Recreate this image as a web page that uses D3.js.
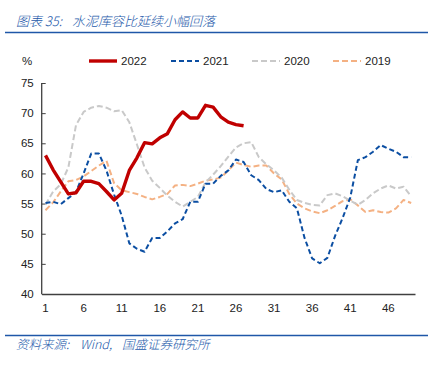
<!DOCTYPE html>
<html>
<head>
<meta charset="utf-8">
<script src="https://cdn.jsdelivr.net/npm/d3@7"></script>
<style>
  body { margin: 0; background: #fff; }
  text { font-family: "Liberation Sans", Arial, sans-serif; }
  .cn { font-family: "Noto Sans CJK SC", sans-serif; font-style: italic; font-weight: 300; fill: #2459aa; }
</style>
</head>
<body>
<div id="chart"></div>
<script>
// weeks 1..49
var weeks = d3.range(1, 50);
var tickWeeks = [1, 6, 11, 16, 21, 26, 31, 36, 41, 46];
var yTicks = [40, 45, 50, 55, 60, 65, 70, 75];

var v2022 = [63.0, 60.6, 58.6, 56.6, 56.8, 58.7, 58.7, 58.3, 57.0, 55.6, 56.7, 60.5, 62.6, 65.1, 64.9, 65.9, 66.6, 68.9, 70.2, 69.2,
  69.2, 71.3, 71.0, 69.4, 68.5, 68.1, 67.9];
var v2021 = [55.1, 55.3, 54.9, 55.9, 56.9, 60.0, 63.3, 63.3, 60.5, 56.5, 53.0, 48.4, 47.5, 47.0, 49.3, 49.3, 50.4, 51.7, 52.4, 55.3,
  55.3, 58.3, 58.3, 59.6, 60.5, 62.3, 61.9, 59.7, 58.9, 57.4, 56.9, 57.2, 55.3, 54.2, 49.3, 45.9, 45.1, 46.0, 49.6, 52.6,
  56.0, 62.2, 62.7, 63.6, 64.7, 64.1, 63.6, 62.7, 62.7];
var v2020 = [54.8, 57.0, 58.2, 61.0, 68.0, 70.2, 70.9, 71.2, 70.9, 70.3, 70.5, 68.5, 64.8, 61.0, 58.8, 57.6, 56.3, 55.3, 54.5, 55.3,
  56.1, 58.5, 59.8, 61.2, 62.8, 64.3, 65.0, 65.2, 62.7, 61.5, 60.5, 59.3, 57.3, 55.6, 55.1, 54.8, 54.7, 56.4, 56.7, 56.2,
  55.5, 54.8, 55.6, 56.7, 57.5, 58.0, 57.5, 57.8, 56.2];
var v2019 = [53.9, 55.2, 57.0, 58.7, 58.9, 59.5, 60.4, 61.3, 62.1, 58.4, 57.2, 56.9, 56.6, 56.1, 55.7, 56.1, 56.6, 58.0, 58.1, 57.9,
  58.3, 58.8, 59.0, 59.3, 60.5, 61.8, 61.4, 61.1, 61.3, 61.3, 60.0, 59.0, 56.6, 55.0, 54.2, 53.7, 53.4, 53.9, 54.6, 55.4,
  55.7, 54.7, 53.6, 53.9, 53.6, 53.5, 54.2, 55.6, 55.1];

var seriesNames = ['2022', '2021', '2020', '2019'];
var seriesValues = [v2022, v2021, v2020, v2019];

var styles = {
  '2022': { color: '#c00000', width: 3.4, dash: null },
  '2021': { color: '#0b4ea2', width: 2, dash: '5,3' },
  '2020': { color: '#c9c9c9', width: 2, dash: '6,3' },
  '2019': { color: '#f4b183', width: 2, dash: '6,3' }
};

var svgWidth = 441;
var svgHeight = 366;

var svg = d3.select('#chart')
  .append('svg')
  .attr('width', svgWidth)
  .attr('height', svgHeight);

// title + rules
var titleParts = [[16, '图表 35:'], [72, '水泥库容比延续小幅回落']];
titleParts.forEach(function (p) {
  svg.append('text')
    .attr('class', 'cn')
    .attr('x', p[0])
    .attr('y', 25.5)
    .style('font-size', '13px')
    .text(p[1]);
});

svg.append('line')
  .attr('x1', 5).attr('x2', 428)
  .attr('y1', 32.5).attr('y2', 32.5)
  .attr('stroke', '#1f57a8')
  .attr('stroke-width', 1.5);

svg.append('line')
  .attr('x1', 5).attr('x2', 428)
  .attr('y1', 335.5).attr('y2', 335.5)
  .attr('stroke', '#1f57a8')
  .attr('stroke-width', 1.5);

var sourceParts = [[16, '资料来源:'], [80, 'Wind,'], [122, '国盛证券研究所']];
sourceParts.forEach(function (p) {
  svg.append('text')
    .attr('class', 'cn')
    .attr('x', p[0])
    .attr('y', 349)
    .style('font-size', '12.5px')
    .text(p[1]);
});

// scales
var xScale = d3.scaleBand()
  .domain(weeks)
  .range([41.7, 415]);

var yScale = d3.scaleLinear()
  .domain([40, 75])
  .range([294, 83]);

var xPos = function (w) { return xScale(w) + xScale.bandwidth() / 2; };

// axes
var yAxis = svg.append('g')
  .attr('transform', 'translate(41.7,0)')
  .call(d3.axisLeft(yScale).tickValues(yTicks).tickSize(-4).tickPadding(8));

var xAxis = svg.append('g')
  .attr('transform', 'translate(0,294)')
  .call(d3.axisBottom(xScale).tickValues(tickWeeks).tickSize(0).tickPadding(10));

svg.selectAll('.domain').attr('stroke', '#404040').attr('stroke-width', 1.3);
svg.selectAll('.tick line').attr('stroke', '#404040');
svg.selectAll('.tick text').attr('fill', '#222').style('font-size', '11.5px');
yAxis.select('.domain').attr('d', 'M0,83V294');

// lines (draw older years first)
var line = d3.line()
  .x(function (d, i) { return xPos(weeks[i]); })
  .y(function (d) { return yScale(d); });

for (var i = seriesNames.length - 1; i >= 0; i--) {
  var st = styles[seriesNames[i]];
  svg.append('path')
    .datum(seriesValues[i])
    .attr('fill', 'none')
    .attr('stroke', st.color)
    .attr('stroke-width', st.width)
    .attr('stroke-dasharray', st.dash)
    .attr('stroke-linejoin', 'round')
    .attr('d', line);
}

// legend
svg.append('text')
  .attr('x', 22)
  .attr('y', 65)
  .attr('fill', '#222')
  .style('font-size', '11.5px')
  .text('%');

var legendX = [89, 171, 252, 333];
var legend = svg.selectAll('.legend')
  .data(seriesNames)
  .enter()
  .append('g')
  .attr('class', 'legend')
  .attr('transform', function (d, i) { return 'translate(' + legendX[i] + ',61)'; });

legend.append('line')
  .attr('x1', 0).attr('x2', 28)
  .attr('stroke', function (d) { return styles[d].color; })
  .attr('stroke-width', function (d) { return styles[d].width; })
  .attr('stroke-dasharray', function (d) { return styles[d].dash; });

legend.append('text')
  .attr('x', 32)
  .attr('y', 4)
  .attr('fill', '#222')
  .style('font-size', '11.5px')
  .text(function (d) { return d; });
</script>
</body>
</html>
